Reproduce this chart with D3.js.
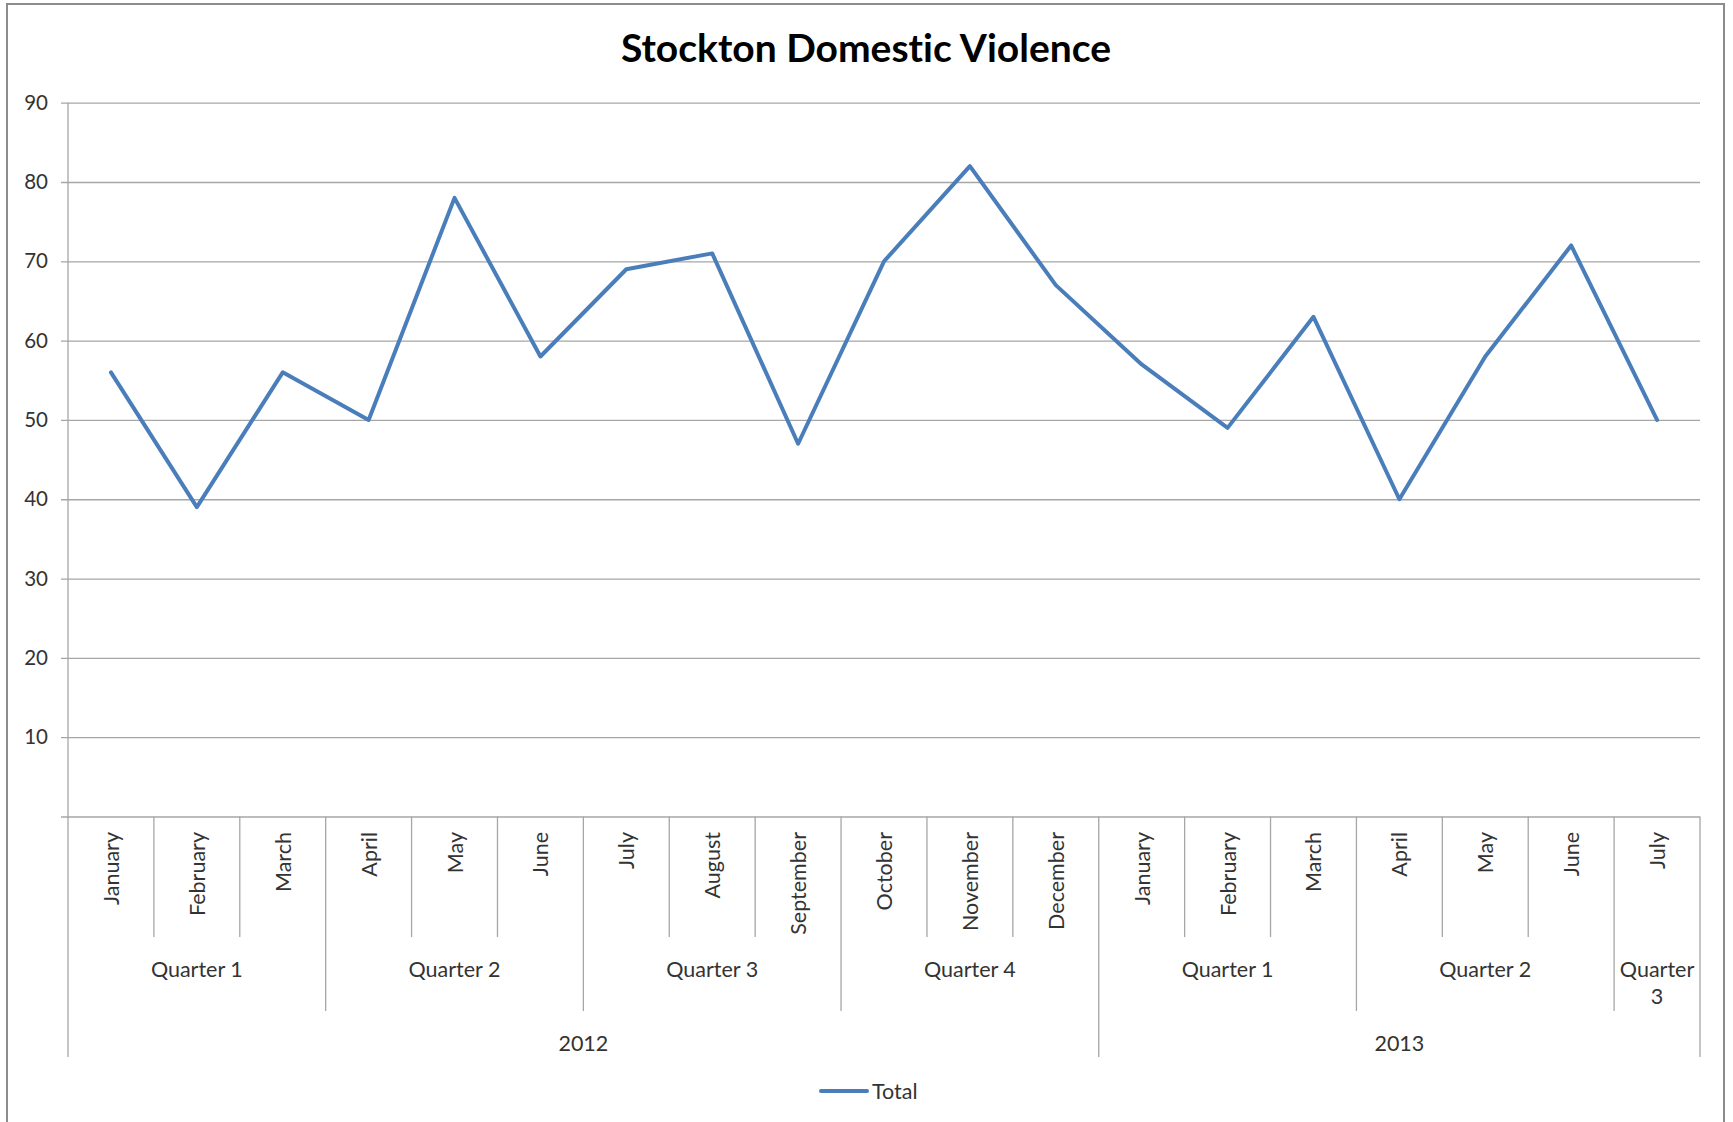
<!DOCTYPE html>
<html>
<head>
<meta charset="utf-8">
<script src="https://cdn.jsdelivr.net/npm/d3@7"></script>
<style>
  html, body { margin: 0; padding: 0; background: #ffffff; }
  svg { display: block; }
  text { font-family: Lato, "Open Sans", sans-serif; font-variant-ligatures: none; font-feature-settings: "liga" 0, "dlig" 0; }
</style>
</head>
<body>
<svg id="chart" width="1733" height="1122"></svg>
<script>
// ---- data ----
const title = "Stockton Domestic Violence";
const monthLabels = ["January","February","March","April","May","June","July","August","September","October","November","December",
                     "January","February","March","April","May","June","July"];
const quarterOf = ["Quarter 1","Quarter 1","Quarter 1","Quarter 2","Quarter 2","Quarter 2","Quarter 3","Quarter 3","Quarter 3",
                   "Quarter 4","Quarter 4","Quarter 4","Quarter 1","Quarter 1","Quarter 1","Quarter 2","Quarter 2","Quarter 2","Quarter 3"];
const yearOf = ["2012","2012","2012","2012","2012","2012","2012","2012","2012","2012","2012","2012",
                "2013","2013","2013","2013","2013","2013","2013"];
const totalValues = [56,39,56,50,78,58,69,71,47,70,82,67,57,49,63,40,58,72,50];
const yTicks = [0,10,20,30,40,50,60,70,80,90];
const seriesName = "Total";

// ---- layout ----
const W = 1733, H = 1122;
const plotL = 68, plotR = 1700, plotT = 102.7, plotB = 816.5;
const tickLeft = 61;
const monthLineB = 937, quarterLineB = 1011, yearLineB = 1057;
const lineColor = "#4a7ebb";
const gridColor = "#a6a6a6";
const textColor = "#333333";
const labelSize = 21.5;

const svg = d3.select("#chart");

// chart border
svg.append("rect")
  .attr("x", 7).attr("y", 4).attr("width", 1717).attr("height", 1140)
  .attr("fill", "#fff").attr("stroke", "#8c8c8c").attr("stroke-width", 2);

// title
svg.append("text")
  .attr("x", 866).attr("y", 47)
  .attr("text-anchor", "middle").attr("dominant-baseline", "central")
  .attr("font-size", 39).attr("font-weight", "bold").attr("fill", "#000")
  .text(title);

const idx = d3.range(monthLabels.length);
const x = d3.scaleBand().domain(idx).range([plotL, plotR]).padding(0);
const y = d3.scaleLinear().domain([0, 90]).range([plotB, plotT]);

// y axis + gridlines
const yAxis = d3.axisLeft(y)
  .tickValues(yTicks)
  .tickSize(-(plotR - tickLeft))
  .tickPadding(13)
  .tickFormat(d => d === 0 ? "" : d);
const gy = svg.append("g").attr("transform", `translate(${tickLeft},0)`).call(yAxis);
gy.select(".domain").remove();
gy.selectAll(".tick line").attr("stroke", gridColor).attr("stroke-width", 1.3);
gy.selectAll(".tick text").attr("font-size", 20.5).attr("fill", textColor)
  .attr("font-family", "Lato, sans-serif");

// vertical axis line
svg.append("line")
  .attr("x1", plotL).attr("x2", plotL).attr("y1", plotT).attr("y2", yearLineB)
  .attr("stroke", gridColor).attr("stroke-width", 1.3);

// category boundary lines
const boundaries = d3.range(1, monthLabels.length + 1).map(i => {
  let bottom;
  if (i === monthLabels.length || yearOf[i] !== yearOf[i - 1]) bottom = yearLineB;
  else if (quarterOf[i] !== quarterOf[i - 1]) bottom = quarterLineB;
  else bottom = monthLineB;
  return { x: x(i - 1) + x.bandwidth(), bottom };
});
svg.append("g").selectAll("line").data(boundaries).join("line")
  .attr("x1", d => d.x).attr("x2", d => d.x)
  .attr("y1", plotB).attr("y2", d => d.bottom)
  .attr("stroke", gridColor).attr("stroke-width", 1.3);

// month labels (rotated)
svg.append("g").selectAll("text").data(idx).join("text")
  .attr("transform", i => `translate(${x(i) + x.bandwidth() / 2},832) rotate(-90)`)
  .attr("text-anchor", "end").attr("dominant-baseline", "central")
  .attr("font-size", labelSize).attr("fill", textColor)
  .text(i => monthLabels[i]);

// quarter / year groups
function groupRuns(keyFn) {
  const runs = [];
  idx.forEach(i => {
    const k = keyFn(i);
    const last = runs[runs.length - 1];
    if (last && last.key === k) last.end = i;
    else runs.push({ key: k, start: i, end: i });
  });
  return runs;
}
const qRuns = groupRuns(i => yearOf[i] + "|" + quarterOf[i]).map(r => ({ ...r, label: quarterOf[r.start] }));
const yRuns = groupRuns(i => yearOf[i]).map(r => ({ ...r, label: yearOf[r.start] }));

const qText = svg.append("g").selectAll("text").data(qRuns).join("text")
  .attr("x", r => (x(r.start) + x(r.end) + x.bandwidth()) / 2)
  .attr("y", 969)
  .attr("text-anchor", "middle").attr("dominant-baseline", "central")
  .attr("font-size", labelSize).attr("fill", textColor)
  .text(r => r.label);
// wrap quarter labels that don't fit
qText.each(function(r) {
  const t = d3.select(this);
  const avail = (r.end - r.start + 1) * x.bandwidth() - 6;
  if (this.getComputedTextLength() > avail) {
    const words = r.label.split(" ");
    const cx = t.attr("x");
    t.text(null);
    words.forEach((w, k) => {
      t.append("tspan").attr("x", cx).attr("dy", k === 0 ? 0 : 27).text(w);
    });
  }
});

svg.append("g").selectAll("text").data(yRuns).join("text")
  .attr("x", r => (x(r.start) + x(r.end) + x.bandwidth()) / 2)
  .attr("y", 1043)
  .attr("text-anchor", "middle").attr("dominant-baseline", "central")
  .attr("font-size", labelSize).attr("fill", textColor)
  .text(r => r.label);

// data line
const line = d3.line()
  .x((d, i) => x(i) + x.bandwidth() / 2)
  .y(d => y(d));
svg.append("path")
  .datum(totalValues)
  .attr("d", line)
  .attr("fill", "none")
  .attr("stroke", lineColor)
  .attr("stroke-width", 4)
  .attr("stroke-linejoin", "round")
  .attr("stroke-linecap", "round");

// legend
const lg = svg.append("g");
lg.append("line").attr("x1", 821).attr("x2", 867).attr("y1", 1091).attr("y2", 1091)
  .attr("stroke", lineColor).attr("stroke-width", 4).attr("stroke-linecap", "round");
lg.append("text").attr("x", 872).attr("y", 1091)
  .attr("dominant-baseline", "central").attr("font-size", labelSize).attr("fill", textColor)
  .text(seriesName);
</script>
</body>
</html>
